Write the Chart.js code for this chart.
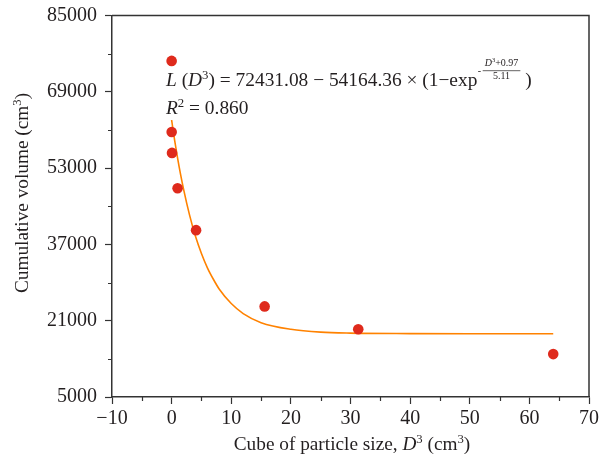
<!DOCTYPE html>
<html>
<head>
<meta charset="utf-8">
<script src="https://cdn.jsdelivr.net/npm/chart.js@4"></script>
<style>
html,body{margin:0;padding:0;background:#fff;}
#wrap{width:610px;height:468px;position:relative;}
</style>
</head>
<body>
<div id="wrap"><canvas id="c"></canvas></div>
<script>
// ---- data ----
const sizeCubed = [0.001, 0.008, 0.064, 1.0, 4.1, 15.6, 31.3, 64.0];
const cumVolume = [75500, 60600, 56200, 48800, 40000, 24000, 19200, 14000];
const fitX = [0, 0.5, 1, 1.5, 2, 3, 4, 5, 6, 7, 8, 10, 12, 15, 20, 25, 30, 40, 50, 64];
const fitY = [63100, 58900, 55100, 51700, 48600, 43200, 38700, 35100, 32100, 29700, 27600, 24600, 22500, 20600, 19200, 18600, 18400, 18300, 18270, 18270];
const xMajorTicks = [-10, 0, 10, 20, 30, 40, 50, 60, 70];
const xMinorTicks = [-5, 5, 15, 25, 35, 45, 55, 65];
const yMajorTicks = [5000, 21000, 37000, 53000, 69000, 85000];
const yMinorTicks = [13000, 29000, 45000, 61000, 77000];

const SERIF = "'Liberation Serif', 'DejaVu Serif', serif";
const AXIS = '#333333';
const TEXT = '#231f20';

function fontStr(r, size){ return (r.i ? 'italic ' : '') + size + 'px ' + SERIF; }
function runsWidth(ctx, runs, size){
  let w = 0;
  runs.forEach(r => { const s = r.sup ? size*0.66 : size; ctx.font = fontStr(r, s); w += ctx.measureText(r.t).width; });
  return w;
}
function drawRuns(ctx, runs, x, y, size){
  runs.forEach(r => {
    const s = r.sup ? size*0.66 : size;
    ctx.font = fontStr(r, s);
    ctx.fillText(r.t, x, y + (r.sup ? -size*0.38 : 0));
    x += ctx.measureText(r.t).width;
  });
  return x;
}

const decor = {
  id: 'decor',
  afterDraw(chart){
    const {ctx, chartArea: a, scales: {x, y}} = chart;
    ctx.save();
    // frame top/right
    ctx.strokeStyle = AXIS; ctx.lineWidth = 1.5;
    ctx.beginPath();
    ctx.moveTo(a.left, a.top); ctx.lineTo(a.right, a.top); ctx.lineTo(a.right, a.bottom);
    ctx.stroke();
    // minor ticks
    ctx.lineWidth = 1.2;
    ctx.beginPath();
    xMinorTicks.forEach(v => { const p = Math.round(x.getPixelForValue(v)) + 0.5; ctx.moveTo(p, a.bottom); ctx.lineTo(p, a.bottom + 4); });
    yMinorTicks.forEach(v => { const p = Math.round(y.getPixelForValue(v)) + 0.5; ctx.moveTo(a.left, p); ctx.lineTo(a.left - 4, p); });
    ctx.stroke();

    ctx.fillStyle = TEXT;
    ctx.textBaseline = 'alphabetic';
    ctx.textAlign = 'left';
    // equation
    const fs = 19.4;
    const bx = 166, by = 86;
    let cx = drawRuns(ctx, [{t:'L', i:true},{t:' ('},{t:'D', i:true},{t:'3', sup:true},{t:') = 72431.08 − 54164.36 × (1−exp'}], bx, by, fs);
    const sf = 10;
    ctx.font = sf + 'px ' + SERIF;
    ctx.fillText('-', cx + 0.5, by - 12);
    cx += ctx.measureText('-').width + 2;
    const num = [{t:'D', i:true},{t:'3', sup:true},{t:'+0.97'}];
    const nw = runsWidth(ctx, num, sf);
    ctx.font = sf + 'px ' + SERIF;
    const dw = ctx.measureText('5.11').width;
    const fw = Math.max(nw, dw) + 4;
    drawRuns(ctx, num, cx + (fw - nw)/2, by - 20, sf);
    ctx.font = sf + 'px ' + SERIF;
    ctx.fillText('5.11', cx + (fw - dw)/2, by - 7);
    ctx.strokeStyle = TEXT; ctx.lineWidth = 0.7;
    ctx.beginPath(); ctx.moveTo(cx, by - 15.3); ctx.lineTo(cx + fw, by - 15.3); ctx.stroke();
    cx += fw;
    drawRuns(ctx, [{t:' )'}], cx, by, fs);
    drawRuns(ctx, [{t:'R', i:true},{t:'2', sup:true},{t:' = 0.860'}], bx, 114, fs);

    // x axis title
    const ts = 19.3;
    const xt = [{t:'Cube of particle size, '},{t:'D', i:true},{t:'3', sup:true},{t:' (cm'},{t:'3', sup:true},{t:')'}];
    const xw = runsWidth(ctx, xt, ts);
    drawRuns(ctx, xt, 352 - xw/2, 450, ts);
    // y axis title
    const yt = [{t:'Cumulative volume (cm'},{t:'3', sup:true},{t:')'}];
    const yw = runsWidth(ctx, yt, ts);
    ctx.translate(28, 193);
    ctx.rotate(-Math.PI/2);
    drawRuns(ctx, yt, -yw/2, 0, ts);
    ctx.restore();
  }
};

const tickFont = {family: SERIF, size: 20};

new Chart(document.getElementById('c'), {
  type: 'scatter',
  data: {
    datasets: [
      {
        type: 'line',
        label: 'Fit',
        data: fitX.map((v, i) => ({x: v, y: fitY[i]})),
        borderColor: '#ff8200',
        borderWidth: 1.6,
        pointRadius: 0,
        fill: false,
        cubicInterpolationMode: 'monotone',
        order: 2
      },
      {
        label: 'Measured',
        data: sizeCubed.map((v, i) => ({x: v, y: cumVolume[i]})),
        backgroundColor: '#df2a1c',
        borderColor: '#df2a1c',
        pointRadius: 5.3,
        pointHoverRadius: 5.3,
        borderWidth: 0,
        order: 1
      }
    ]
  },
  options: {
    responsive: true,
    maintainAspectRatio: false,
    animation: false,
    events: [],
    layout: {padding: {top: 15.6, right: 21, left: 0, bottom: 0}},
    plugins: {legend: {display: false}, tooltip: {enabled: false}},
    scales: {
      x: {
        type: 'linear',
        min: -10, max: 70,
        afterFit(s){ s.height = 71; s.paddingLeft = 0; s.paddingRight = 0; },
        border: {display: true, color: AXIS, width: 1.5},
        grid: {
          drawOnChartArea: false, drawTicks: true, tickLength: 7,
          tickColor: c => xMajorTicks.includes(c.tick.value) ? AXIS : 'rgba(0,0,0,0)',
          tickWidth: 1.2
        },
        ticks: {
          stepSize: 5, maxTicksLimit: 30, autoSkip: false, maxRotation: 0,
          color: TEXT, font: tickFont, padding: 3,
          callback: v => xMajorTicks.includes(v) ? (v < 0 ? '−' + Math.abs(v) : String(v)) : ''
        }
      },
      y: {
        type: 'linear',
        min: 5000, max: 85000,
        afterFit(s){ s.width = 112; s.paddingTop = 0; s.paddingBottom = 0; },
        border: {display: true, color: AXIS, width: 1.5},
        grid: {
          drawOnChartArea: false, drawTicks: true, tickLength: 7,
          tickColor: c => yMajorTicks.includes(c.tick.value) ? AXIS : 'rgba(0,0,0,0)',
          tickWidth: 1.2
        },
        ticks: {
          stepSize: 8000, maxTicksLimit: 30, autoSkip: false,
          color: TEXT, font: tickFont, padding: 8,
          callback: v => yMajorTicks.includes(v) ? String(v) : ''
        }
      }
    }
  },
  plugins: [decor]
});
</script>
</body>
</html>
